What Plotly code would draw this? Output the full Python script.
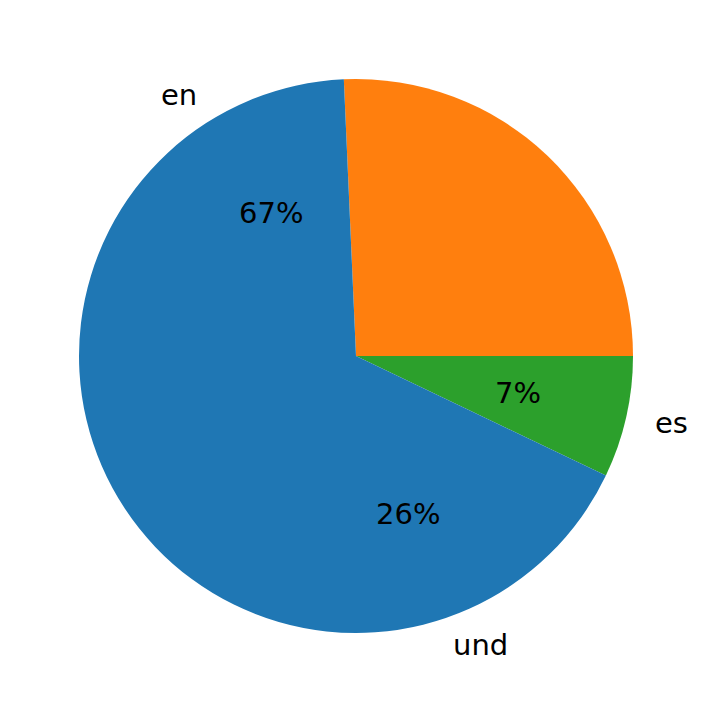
import math
import plotly.graph_objects as go

labels = ["en", "und", "es"]
values = [67.2, 25.7, 7.1]
colors = ["#1f77b4", "#ff7f0e", "#2ca02c"]

W, H = 712, 713
cx, cy, r = 348, 348, 277

fig = go.Figure(go.Pie(
    labels=labels[::-1], values=values[::-1], sort=False, direction="counterclockwise",
    rotation=90, textinfo="none", hoverinfo="label+percent",
    marker=dict(colors=colors[::-1], line=dict(width=0)), showlegend=False,
    domain=dict(x=[(cx - r) / W, (cx + r) / W], y=[1 - (cy + r) / H, 1 - (cy - r) / H]),
))

total = sum(values)
start = 0.0
for lab, v in zip(labels, values):
    mid = math.radians((start + v / 2) / total * 360)
    start += v
    for dist, txt in ((1.1, lab), (0.6, f"{round(v / total * 100)}%")):
        x = cx + dist * r * math.cos(mid)
        y = cy - dist * r * math.sin(mid)
        xanchor = "center"
        if dist > 1:
            xanchor = "left" if math.cos(mid) > 0 else "right"
        fig.add_annotation(x=x / W, y=1 - y / H, xref="paper", yref="paper", text=txt,
                           showarrow=False, xanchor=xanchor, yanchor="middle",
                           font=dict(family="DejaVu Sans", size=29, color="black"))

fig.update_layout(width=W, height=H, margin=dict(l=0, r=0, t=0, b=0),
                  paper_bgcolor="white", plot_bgcolor="white")
fig.write_html("out.html")
